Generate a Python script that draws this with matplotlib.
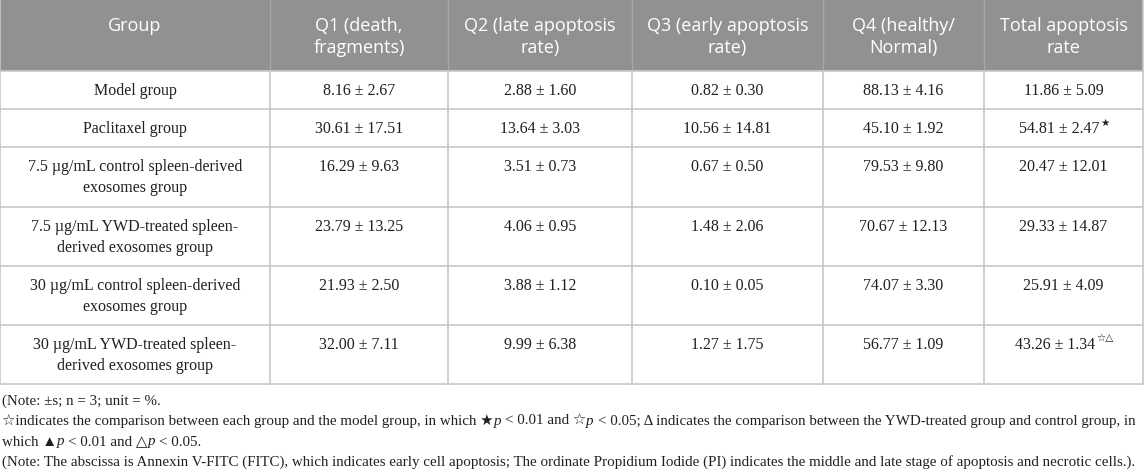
import numpy as np
import matplotlib
matplotlib.use("Agg")
import matplotlib.pyplot as plt
from matplotlib.patches import Rectangle

#--------Data--------#
headers = [["Group"], ["Q1 (death,", "fragments)"], ["Q2 (late apoptosis", "rate)"],
           ["Q3 (early apoptosis", "rate)"], ["Q4 (healthy/", "Normal)"],
           ["Total apoptosis", "rate"]]

groups = [["Model group"],
          ["Paclitaxel group"],
          ["7.5 µg/mL control spleen-derived", "exosomes group"],
          ["7.5 µg/mL YWD-treated spleen-", "derived exosomes group"],
          ["30 µg/mL control spleen-derived", "exosomes group"],
          ["30 µg/mL YWD-treated spleen-", "derived exosomes group"]]

q1_mean = [8.16, 30.61, 16.29, 23.79, 21.93, 32.00]
q1_sd = [2.67, 17.51, 9.63, 13.25, 2.50, 7.11]
q2_mean = [2.88, 13.64, 3.51, 4.06, 3.88, 9.99]
q2_sd = [1.60, 3.03, 0.73, 0.95, 1.12, 6.38]
q3_mean = [0.82, 10.56, 0.67, 1.48, 0.10, 1.27]
q3_sd = [0.30, 14.81, 0.50, 2.06, 0.05, 1.75]
q4_mean = [88.13, 45.10, 79.53, 70.67, 74.07, 56.77]
q4_sd = [4.16, 1.92, 9.80, 12.13, 3.30, 1.09]
tot_mean = [11.86, 54.81, 20.47, 29.33, 25.91, 43.26]
tot_sd = [5.09, 2.47, 12.01, 14.87, 4.09, 1.34]
tot_marks = ["", "★", "", "", "", "☆△"]

notes = [
    [("(Note: ±s; n = 3; unit = %.", "normal")],
    [("☆indicates the comparison between each group and the model group, in which ★", "normal"),
     ("p ", "italic"), ("< 0.01 and ☆", "normal"), ("p ", "italic"),
     ("< 0.05; Δ indicates the comparison between the YWD-treated group and control group, in", "normal")],
    [("which ▲", "normal"), ("p ", "italic"), ("< 0.01 and △", "normal"), ("p ", "italic"),
     ("< 0.05.", "normal")],
    [("(Note: The abscissa is Annexin V-FITC (FITC), which indicates early cell apoptosis; "
      "The ordinate Propidium Iodide (PI) indicates the middle and late stage of apoptosis "
      "and necrotic cells.).", "normal")],
]
#--------------------#

#-------Layout-------#
W, H = 1145, 471
col_edges = [0, 270, 448, 632, 823, 984, 1143]
row_edges = [0, 71, 109, 147, 207, 266, 325, 384]
head_bg = "#919191"
grid_c = "#c8c8c8"
txt_c = "#231f20"
serif = ["Liberation Serif", "DejaVu Serif", "DejaVu Sans"]
sans = ["Open Sans", "DejaVu Sans"]
body_fs = 11.5
head_fs = 13
note_fs = 10.85
#--------------------#

fig = plt.figure(figsize=(W / 100, H / 100), dpi=100)
ax = fig.add_axes([0, 0, 1, 1])
ax.set_xlim(0, W)
ax.set_ylim(H, 0)
ax.axis("off")
renderer = fig.canvas.get_renderer()


def text_w(s, **kw):
    t = ax.text(0, 0, s + "|", **kw)
    t2 = ax.text(0, 0, "|", **kw)
    w = t.get_window_extent(renderer).width - t2.get_window_extent(renderer).width
    t.remove()
    t2.remove()
    return w


# header
ax.add_patch(Rectangle((col_edges[0], row_edges[0]), col_edges[-1] - col_edges[0],
                       row_edges[1] - row_edges[0], facecolor=head_bg, edgecolor="none"))
for c in range(len(headers)):
    cx = (col_edges[c] + col_edges[c + 1]) / 2
    for k, line in enumerate(headers[c]):
        ax.text(cx, 26 + k * 22, line, ha="center", va="center", color="white",
                fontsize=head_fs, family=sans)
for x in col_edges[1:-1]:
    ax.plot([x, x], [row_edges[0], row_edges[1]], color="#a8a8a8", lw=1)

# body
columns = [(q1_mean, q1_sd), (q2_mean, q2_sd), (q3_mean, q3_sd), (q4_mean, q4_sd),
           (tot_mean, tot_sd)]
for r in range(len(groups)):
    top = row_edges[r + 1]
    cx = (col_edges[0] + col_edges[1]) / 2
    for k, line in enumerate(groups[r]):
        ax.text(cx, top + 20 + k * 21, line, ha="center", va="center", color=txt_c,
                fontsize=body_fs, family=serif)
    for c, (m, s) in enumerate(columns):
        cx = (col_edges[c + 1] + col_edges[c + 2]) / 2
        label = f"{m[r]:.2f} ± {s[r]:.2f}"
        if c == 4 and tot_marks[r]:
            w = text_w(label, fontsize=body_fs, family=serif)
            wm = text_w(tot_marks[r], fontsize=7.5, family=serif)
            x0 = cx - (w + wm) / 2
            ax.text(x0, top + 20, label, ha="left", va="center", color=txt_c,
                    fontsize=body_fs, family=serif)
            ax.text(x0 + w + 1, top + 14, tot_marks[r], ha="left", va="center",
                    color=txt_c, fontsize=7.5, family=serif)
        else:
            ax.text(cx, top + 20, label, ha="center", va="center", color=txt_c,
                    fontsize=body_fs, family=serif)

# grid lines
for y in row_edges[1:]:
    ax.plot([col_edges[0], col_edges[-1]], [y, y], color=grid_c, lw=1.2)
for x in [col_edges[0], col_edges[-1]]:
    ax.plot([x, x], [row_edges[0], row_edges[-1]], color=grid_c, lw=1.2)
for x in col_edges[1:-1]:
    ax.plot([x, x], [row_edges[1], row_edges[-1]], color=grid_c, lw=1.2)

# notes
for i, runs in enumerate(notes):
    x = 2
    y = 401 + i * 20.5
    for s, style in runs:
        ax.text(x, y, s, ha="left", va="center", color=txt_c, fontsize=note_fs,
                family=serif, style=style)
        x += text_w(s, fontsize=note_fs, family=serif, style=style)

fig.savefig("out.png", dpi=100)
